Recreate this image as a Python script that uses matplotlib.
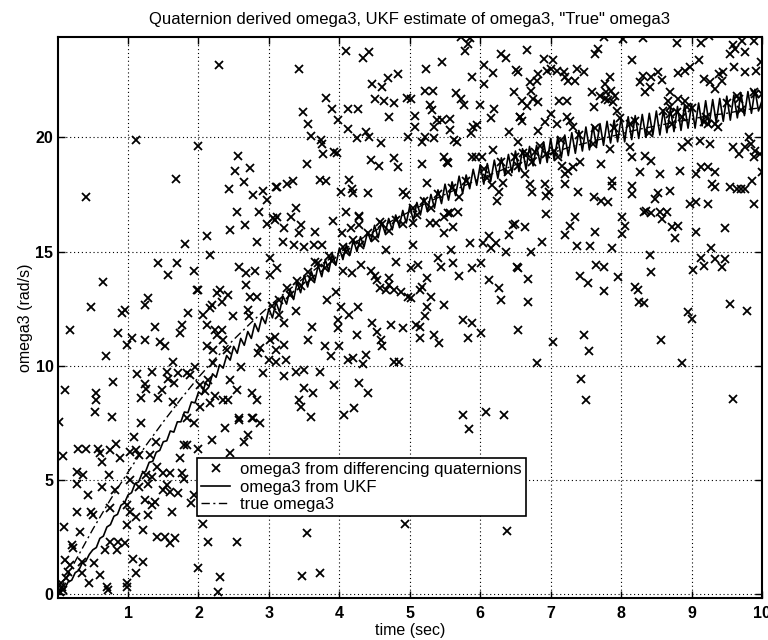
import numpy as np
import matplotlib
matplotlib.use("Agg")
import matplotlib.pyplot as plt

plt.rcParams['font.family'] = ['Liberation Sans', 'DejaVu Sans']

# ---- true omega3 (sampled every 0.25 s) ----
true_t = np.linspace(0, 10, 41)
true_w = [0.0, 1.45, 2.85, 4.15, 5.35, 6.5, 7.55, 8.55, 9.5, 10.35,
          11.15, 11.9, 12.6, 13.25, 13.85, 14.45, 14.95, 15.45, 15.9, 16.35,
          16.75, 17.15, 17.5, 17.85, 18.2, 18.5, 18.8, 19.05, 19.3, 19.55,
          19.75, 19.95, 20.15, 20.35, 20.5, 20.65, 20.8, 20.95, 21.05, 21.2,
          21.3]

# ---- UKF estimate of omega3 (every 0.05 s) ----
ukf_t = np.linspace(0, 10, 201)
ukf_w = [
    0.00, 0.22, 0.25, 0.55, 0.62, 0.95, 1.05, 1.38, 1.45, 1.75,
    1.95, 2.05, 2.45, 2.55, 2.95, 3.05, 3.42, 3.50, 3.90, 4.00,
    4.35, 4.45, 4.85, 4.92, 5.30, 5.38, 5.78, 5.82, 6.22, 6.30,
    6.68, 6.72, 7.15, 7.10, 7.55, 7.55, 7.98, 7.95, 8.42, 8.38,
    8.85, 8.75, 9.25, 9.10, 9.65, 9.50, 10.05, 9.90, 10.45, 10.25,
    10.85, 10.55, 11.20, 10.90, 11.50, 11.20, 11.85, 11.50, 12.15, 11.85,
    12.50, 12.10, 12.80, 12.35, 13.05, 12.70, 13.35, 12.90, 13.65, 13.20,
    13.95, 13.45, 14.15, 13.70, 14.40, 13.90, 14.65, 14.15, 14.90, 14.40,
    15.15, 14.65, 15.30, 14.85, 15.50, 15.00, 15.65, 15.20, 15.85, 15.45,
    16.15, 15.60, 16.30, 15.80, 16.45, 15.95, 16.60, 16.10, 16.80, 16.25,
    17.00, 16.35, 17.15, 16.60, 17.35, 16.75, 17.50, 16.90, 17.70, 17.10,
    17.95, 17.25, 18.05, 17.45, 18.30, 17.55, 18.35, 17.75, 18.60, 17.90,
    18.80, 17.95, 18.85, 18.10, 19.00, 18.20, 19.10, 18.35, 19.25, 18.45,
    19.40, 18.50, 19.50, 18.60, 19.60, 18.75, 19.65, 18.85, 19.80, 18.90,
    19.95, 19.00, 20.00, 19.10, 20.10, 19.20, 20.20, 19.30, 20.30, 19.40,
    20.45, 19.45, 20.50, 19.60, 20.60, 19.65, 20.70, 19.75, 20.75, 19.80,
    20.85, 19.80, 20.90, 19.90, 20.95, 19.95, 21.00, 20.00, 21.05, 20.10,
    21.15, 20.10, 21.20, 20.20, 21.25, 20.25, 21.35, 20.30, 21.40, 20.40,
    21.45, 20.40, 21.50, 20.50, 21.60, 20.55, 21.65, 20.65, 21.70, 20.70,
    21.80, 20.75, 21.85, 20.85, 21.95, 20.95, 22.00, 21.05, 22.10, 21.15,
    21.60]

# ---- omega3 from differencing quaternions (time, value) ----
quat_t = [
    0.40, 1.11, 1.68, 2.00, 2.29, 2.56, 2.52, 2.73, 2.64, 2.43, 2.78, 2.91, 2.97, 3.10, 2.55, 2.86, 3.06,
    3.42, 4.09, 4.33, 4.42, 3.48, 3.56, 3.81, 3.89, 3.98, 3.60, 3.74, 3.75, 3.77, 3.93, 3.96, 3.54, 3.12,
    3.26, 3.34, 3.72, 3.81, 3.12, 3.38, 4.12, 4.27, 4.12, 4.25, 4.38, 4.42, 4.47, 4.61, 4.69, 4.83, 4.51,
    4.64, 4.77, 4.71, 4.59, 4.45, 4.56, 4.78, 4.83, 4.14, 4.18, 4.19, 4.02, 4.40, 4.09, 4.28, 4.90, 4.94,
    4.96, 5.02, 4.97, 5.08, 5.07, 5.17, 5.21, 5.18, 5.24, 5.23, 5.22, 5.33, 5.46, 5.29, 5.31, 5.35, 5.39,
    5.35, 5.46, 5.57, 5.57, 5.48, 5.53, 5.54, 5.63, 5.67, 5.66, 5.73, 5.77, 5.73, 5.79, 5.82, 5.86, 5.87,
    5.90, 5.95, 5.89, 5.94, 6.00, 5.89, 6.06, 6.05, 6.18, 6.15, 6.19, 6.18, 6.29, 6.36, 6.51, 6.48, 6.56,
    6.41, 5.49, 5.68, 5.57, 6.26, 6.24, 6.32, 6.17, 6.03,
    6.67, 6.90, 7.03, 6.54, 6.82, 6.95, 7.01, 7.09, 7.19, 7.20, 7.34, 7.37, 7.48, 7.25, 6.71, 6.80, 7.75,
    7.67, 7.63, 8.02, 8.31, 8.16, 8.80, 9.14, 9.25, 9.11, 9.59, 9.71, 9.89, 9.55, 9.62, 9.76, 9.99, 9.60,
    9.76, 9.91, 7.58, 7.77, 7.84, 7.70, 7.79, 7.86, 7.91, 7.77, 7.82, 7.89, 7.94, 7.62, 7.98, 8.13, 8.27,
    8.41, 8.31, 8.52, 8.43, 8.34, 8.58, 8.81, 8.91, 8.98, 8.70, 8.67, 8.69, 8.60, 8.81, 8.91, 8.93, 8.79,
    8.86, 8.72, 9.18, 9.26, 9.33, 9.43, 9.39, 9.45, 9.64, 9.68, 9.89, 10.00, 9.17, 9.24, 9.33, 9.38, 6.59,
    6.66, 6.75, 6.82, 6.72, 6.56, 6.59, 6.92, 7.01, 7.09, 7.12, 7.23, 7.23, 7.27, 7.32, 7.63, 6.82, 6.54,
    6.49, 6.66, 6.78, 6.73, 6.94, 7.04, 7.11, 6.54, 6.64, 6.71, 6.73, 6.92, 6.97, 6.94, 7.16, 7.20, 7.25,
    7.32, 7.42, 7.20, 7.39, 7.61, 7.72, 7.82, 7.72, 7.84, 7.87, 7.87, 8.15, 8.13, 8.34, 8.43, 8.27, 8.55,
    8.83, 8.15, 8.15, 8.53, 8.48, 8.69, 8.36, 8.43, 8.55, 8.98, 9.07, 9.24, 9.07, 9.14, 9.24, 9.33, 9.29,
    9.33, 9.12, 9.26, 8.95, 8.86, 9.59, 9.68, 9.76, 9.85, 9.90, 9.88, 9.97, 10.00, 9.55, 9.64, 9.70, 9.76,
    9.86, 9.88, 9.81,
    3.31, 3.45, 3.43, 3.66, 3.91, 4.04, 4.17, 4.28, 4.28, 4.57, 3.22, 3.20, 3.36, 3.08, 3.50, 3.64, 3.76,
    3.65, 4.05, 4.18, 4.31, 4.45, 4.50, 4.54, 4.57, 4.71, 4.71, 4.66, 4.78, 4.88, 4.97, 5.02, 4.66, 4.80,
    5.05, 5.02, 5.11, 5.04, 5.28, 5.37, 5.49, 5.61, 5.54, 5.59, 5.40, 5.44, 5.61, 5.25, 5.18, 5.14, 5.30,
    5.25, 5.21, 5.14, 5.09, 5.49, 5.70, 5.85, 5.89, 6.01, 6.04, 6.13, 6.15, 6.22, 6.37, 6.41, 6.46, 6.53,
    6.13, 6.27, 6.30, 5.75, 5.89, 6.01, 5.82, 6.53, 5.35, 5.42, 5.14, 4.90, 4.73, 4.47, 4.54, 4.59, 4.61,
    4.25, 4.38, 4.19, 4.12, 4.33, 4.78, 4.85, 4.00, 3.98, 3.98, 4.02, 4.14, 4.27, 3.95, 3.83, 3.55, 3.61,
    3.79, 3.88, 3.38, 3.22, 3.15, 3.08, 3.22, 3.10, 3.10, 3.24, 3.21, 3.38, 3.50, 3.72, 3.50, 3.62, 3.43,
    3.46, 3.60, 3.93, 4.07, 4.21, 4.28, 4.40, 5.75, 6.08, 6.34,
    6.94, 6.49, 6.64, 6.87, 6.72, 6.52, 6.68, 6.68, 6.81, 7.03, 7.35, 7.27, 7.21, 7.37, 7.56, 7.63, 7.65,
    7.75, 7.42, 7.53, 7.76, 7.87, 7.95, 8.01, 8.06, 8.01, 8.32, 8.58, 8.65, 8.72, 8.81, 8.77, 9.07, 9.48,
    8.41, 8.43, 8.20, 8.24, 8.26, 8.32, 8.57, 8.86, 8.95, 9.00, 9.02, 9.13, 9.18, 9.28, 9.33, 9.43, 9.48,
    9.55, 9.79, 7.48, 7.54, 7.43, 7.50, 9.59,
    0.11, 0.18, 0.48, 0.65, 0.69, 0.54, 0.55, 0.53, 0.77, 0.79, 0.86, 0.91, 0.95, 0.98, 1.05, 1.24, 1.24,
    1.29, 1.38, 1.43, 1.57, 1.69, 1.81, 1.93, 1.46, 1.52, 1.13, 1.24, 1.25, 1.34, 1.19, 1.43, 1.48, 1.57,
    1.64, 1.55, 1.65, 1.71, 1.64, 1.83, 1.88, 1.74, 1.76, 1.85, 1.98, 2.00, 2.12, 2.16, 1.95, 2.02, 2.14,
    2.09, 2.02, 2.16, 2.23, 2.35, 2.42, 2.20, 2.26, 2.31, 2.33, 2.19, 2.07, 2.12, 2.16, 2.23, 2.26, 2.33,
    2.12, 2.21, 2.35, 2.40, 2.42, 2.49, 2.45, 2.66, 2.58, 2.67, 2.80, 2.67, 2.73, 2.83, 2.71, 2.72, 2.83,
    2.97, 3.02, 3.11, 3.02, 2.45, 2.54, 2.76, 2.83, 2.61, 2.92, 3.00, 2.85, 2.87, 3.02, 2.57, 2.76,
    0.02, 0.07, 0.09, 0.11, 0.27, 0.36, 0.29, 0.41, 0.28, 0.43, 0.28, 0.50, 0.20, 0.22, 0.32, 0.34, 0.34,
    0.45, 0.60, 0.70, 0.72, 0.98, 0.98, 1.11, 1.07, 1.21, 0.58, 0.60, 0.74, 0.83, 0.63, 0.73, 0.63, 0.89,
    0.81, 0.51, 0.48, 0.74, 0.67, 0.75, 0.86, 0.84, 0.95, 0.98, 1.03, 1.08, 1.12, 1.19, 1.15, 1.03, 1.15,
    0.98, 1.03, 1.12, 1.21, 1.24, 1.29, 1.34, 1.26, 1.41, 1.31, 1.40, 1.50, 1.60, 1.55, 1.60, 1.50, 1.38,
    1.34, 1.29, 1.41, 1.53, 1.60, 1.67, 1.63, 1.71, 1.74, 1.76, 1.79, 1.79, 1.83, 1.83, 1.93, 1.90, 1.93,
    2.00, 2.00, 2.14, 2.19, 2.30, 2.28, 2.37, 2.45, 2.54, 2.57, 2.71, 2.64, 2.78, 2.87, 0.06,
    3.47, 3.72, 2.07, 3.54, 4.93, 5.84, 6.38,
    0.03, 0.05, 0.08, 0.12, 0.15, 0.18,
    3.05, 3.15, 3.25, 3.30, 3.40, 3.45, 3.55, 3.60, 3.70, 3.80, 3.85, 3.90, 4.05, 4.10, 4.20, 4.30, 4.40,
    4.50, 4.60, 4.70, 4.80, 4.90, 5.05, 5.10, 5.20, 5.30, 5.40, 5.60, 5.70, 5.80, 6.05, 6.10, 6.30, 6.40,
    6.60, 6.85, 7.15, 7.40, 7.60, 7.90, 8.20, 8.40, 8.70, 9.00, 9.20, 9.50, 9.70, 9.90]
quat_w = [
    17.38, 19.90, 18.16, 19.60, 23.16, 19.18, 18.54, 18.64, 18.03, 17.74, 17.48, 17.65, 17.26, 17.81, 16.72, 16.72, 16.46,
    22.97, 23.78, 23.46, 23.75, 21.12, 20.57, 21.70, 21.24, 20.76, 20.06, 19.88, 19.69, 19.27, 19.34, 19.30, 18.83, 17.81,
    17.96, 18.09, 18.13, 18.10, 16.53, 16.92, 21.22, 21.22, 20.35, 19.96, 20.22, 20.03, 22.33, 22.22, 22.61, 22.77, 21.66,
    21.60, 21.49, 20.90, 19.74, 19.00, 18.75, 19.08, 18.72, 18.13, 17.74, 17.55, 17.62, 17.55, 16.75, 16.57, 17.62, 17.48,
    21.70, 21.66, 20.03, 20.93, 20.44, 19.81, 20.03, 18.83, 18.02, 22.97, 22.03, 22.03, 23.31, 21.41, 21.20, 20.47, 20.76,
    19.99, 20.76, 20.80, 20.32, 19.15, 18.94, 18.86, 19.88, 19.78, 21.95, 21.66, 21.41, 24.40, 23.79, 24.07, 24.33, 20.17,
    20.44, 20.54, 19.15, 19.15, 21.41, 22.65, 23.16, 22.33, 22.83, 20.83, 21.22, 19.45, 23.63, 23.49, 22.95, 22.00, 20.90,
    20.25, 16.53, 16.75, 16.68, 17.62, 17.23, 18.02, 17.91, 19.15,
    23.82, 23.43, 23.38, 22.87, 22.77, 22.92, 22.99, 22.92, 22.87, 22.65, 22.45, 22.99, 22.84, 22.45, 22.41, 22.48, 24.37,
    23.86, 23.65, 24.30, 24.33, 23.38, 24.11, 24.11, 24.45, 23.38, 24.05, 24.23, 24.23, 23.65, 23.86, 23.72, 23.28, 23.06,
    22.87, 22.92, 21.97, 22.33, 22.62, 21.82, 21.97, 22.04, 21.82, 21.68, 21.63, 21.53, 21.17, 21.31, 20.85, 20.58, 22.41,
    22.19, 22.70, 22.84, 22.62, 21.97, 22.51, 22.80, 22.92, 23.06, 21.97, 21.60, 21.31, 21.17, 21.68, 21.60, 21.31, 21.09,
    20.87, 20.58, 22.55, 22.41, 22.11, 22.48, 22.77, 22.84, 21.82, 21.68, 22.00, 21.90, 20.66, 20.58, 20.58, 20.44, 21.60,
    21.39, 21.68, 21.53, 22.04, 20.87, 20.73, 20.66, 21.02, 20.58, 21.60, 21.60, 20.87, 20.73, 20.44, 20.39, 20.29, 19.78,
    19.13, 19.27, 19.34, 18.91, 19.27, 19.42, 19.13, 18.76, 18.40, 17.96, 17.59, 17.96, 17.59, 17.45, 18.76, 18.40, 18.54,
    18.69, 18.91, 17.96, 17.59, 17.38, 17.20, 17.16, 18.83, 19.49, 18.10, 17.89, 19.13, 19.56, 19.20, 18.98, 18.47, 18.40,
    18.54, 17.89, 17.52, 17.55, 17.30, 17.67, 16.79, 16.68, 16.72, 17.08, 17.16, 17.08, 18.40, 18.69, 18.69, 18.47, 17.96,
    17.81, 19.85, 19.71, 19.78, 19.56, 19.56, 19.27, 19.56, 19.71, 19.42, 19.13, 19.27, 18.47, 17.81, 17.74, 17.74, 17.74,
    18.10, 17.08, 20.00,
    16.53, 16.17, 15.80, 15.87, 16.34, 15.80, 16.02, 16.17, 16.53, 16.31, 16.02, 15.44, 15.29, 16.38, 15.22, 15.29, 15.29,
    14.56, 14.13, 14.05, 14.42, 14.13, 13.91, 13.76, 13.40, 13.83, 13.54, 13.32, 13.32, 13.25, 13.03, 12.96, 15.07, 14.56,
    15.29, 14.27, 14.42, 16.24, 16.24, 16.24, 15.80, 16.09, 16.68, 15.07, 14.71, 14.34, 14.49, 13.83, 13.47, 13.32, 13.03,
    12.59, 12.16, 11.72, 11.79, 12.67, 13.91, 15.36, 14.27, 14.49, 15.36, 15.66, 15.15, 15.36, 15.00, 15.73, 16.17, 14.27,
    13.76, 13.40, 12.89, 12.01, 11.87, 11.43, 11.21, 11.57, 11.36, 10.99, 11.21, 11.65, 11.79, 11.87, 11.50, 11.14, 10.85,
    11.36, 10.48, 10.34, 10.26, 10.09, 10.19, 10.19, 10.85, 11.65, 12.01, 12.59, 12.23, 12.59, 13.25, 12.86, 11.14, 11.69,
    10.85, 10.41, 12.38, 11.87, 12.23, 11.28, 10.92, 10.70, 10.19, 10.26, 9.56, 9.75, 9.82, 9.75, 9.02, 8.83, 8.51,
    8.22, 7.78, 9.17, 7.86, 8.15, 9.24, 8.80, 7.86, 8.00, 7.86,
    16.65, 16.21, 16.06, 15.41, 14.97, 14.31, 13.80, 12.78, 10.12, 11.06, 16.53, 16.14, 15.74, 15.23, 15.23, 15.85, 14.43,
    14.34, 13.91, 13.62, 13.27, 15.15, 13.88, 16.50, 16.14, 15.77, 16.72, 16.43, 16.72, 16.06, 16.14, 15.60, 15.85, 16.03,
    14.83, 14.10, 13.44, 13.32, 12.78, 12.74, 11.11, 10.12, 12.35, 12.06, 14.20, 14.71, 14.39, 15.16, 14.68, 14.34, 14.68,
    12.71, 12.42, 11.36, 10.64, 9.43, 8.51, 8.53,
    8.95, 11.57, 12.57, 13.66, 10.44, 8.83, 8.51, 7.97, 7.78, 9.31, 11.43, 12.30, 12.45, 10.92, 11.21, 11.14, 12.67,
    12.96, 11.69, 14.52, 13.98, 14.52, 15.32, 14.13, 11.06, 10.87, 9.65, 9.21, 8.98, 9.75, 8.59, 8.59, 8.95, 9.42,
    10.19, 9.75, 9.24, 9.68, 8.44, 9.68, 9.60, 11.43, 11.79, 12.30, 13.32, 13.32, 15.69, 14.85, 9.97, 9.17, 9.39,
    8.88, 8.22, 8.37, 8.66, 8.51, 8.51, 10.12, 13.18, 13.32, 12.81, 12.67, 12.23, 11.79, 12.52, 11.57, 11.36, 11.57,
    10.85, 10.70, 11.14, 10.70, 13.10, 12.19, 15.95, 16.17, 14.34, 14.05, 14.13, 13.54, 13.03, 13.00, 12.45, 12.19, 15.44,
    16.21, 14.71, 14.27, 13.98, 9.39, 8.95, 8.80, 8.51, 9.97, 9.68, 10.26, 10.55, 10.77, 11.14, 7.71, 7.71,
    7.55, 6.06, 2.96, 1.50, 5.36, 5.22, 6.38, 6.38, 4.85, 4.34, 3.62, 3.47, 2.16, 2.01, 2.74, 1.43, 0.92,
    0.48, 0.87, 0.33, 0.19, 0.48, 0.33, 0.92, 1.57, 1.43, 6.38, 6.17, 6.31, 6.60, 5.80, 5.22, 4.71, 5.95,
    4.56, 1.36, 3.62, 3.76, 1.94, 2.30, 2.30, 1.94, 2.23, 3.03, 6.24, 6.90, 6.31, 7.48, 6.09, 5.00, 4.71,
    3.91, 3.62, 3.40, 2.81, 4.13, 4.85, 5.15, 5.22, 5.58, 6.09, 6.68, 5.29, 5.29, 4.78, 4.49, 4.56, 4.05,
    3.91, 3.47, 2.52, 2.52, 2.23, 2.45, 3.62, 4.42, 5.95, 5.29, 5.07, 6.53, 6.53, 7.70, 7.48, 3.98, 4.34,
    6.38, 1.14, 2.30, 6.75, 0.77, 0.12, 7.26, 6.17, 2.30, 7.62, 6.97, 6.68, 7.70, 7.48, 0.33,
    0.80, 0.92, 3.10, 2.67, 3.10, 7.23, 2.77,
    0.10, 0.50, 0.20, 0.70, 1.00, 1.30,
    12.60, 12.90, 13.40, 13.10, 13.70, 13.50, 14.10, 13.80, 14.50, 14.30, 14.80, 14.60, 15.20, 15.00, 15.50, 15.30, 15.80,
    15.60, 16.20, 15.90, 16.40, 16.20, 16.90, 16.60, 17.20, 16.90, 17.50, 17.80, 17.40, 18.10, 18.60, 18.20, 18.90, 18.50,
    19.30, 19.60, 19.90, 20.10, 19.70, 20.40, 20.70, 20.20, 21.00, 21.30, 20.90, 21.50, 21.20, 21.90]

fig = plt.figure(figsize=(7.68, 6.4), dpi=100)
ax = fig.add_axes([0.075, 0.0659, 0.9172, 0.8767])

ax.plot(quat_t, quat_w, linestyle='none', marker='x', color='black',
        markersize=5.5, markeredgewidth=1.3,
        label='omega3 from differencing quaternions')
ax.plot(ukf_t, ukf_w, color='black', linewidth=1.2, label='omega3 from UKF')
ax.plot(true_t, true_w, color='black', linewidth=1.0,
        linestyle=(0, (6, 2.5, 1.5, 2.5)), label='true omega3')

ax.set_xlim(0, 10)
ax.set_ylim(-0.15, 24.4)
ax.set_xticks(range(1, 11))
ax.set_yticks([0, 5, 10, 15, 20])
ax.grid(True, color='black', linestyle=(0, (1, 2.5)), linewidth=0.8)
ax.tick_params(direction='in', length=5, width=1.0, top=True, right=True,
               labelsize=11.5, pad=6)
ax.tick_params(axis='y', pad=3)
for lab in ax.get_xticklabels() + ax.get_yticklabels():
    lab.set_fontweight('bold')
for sp in ax.spines.values():
    sp.set_linewidth(1.5)

ax.set_title('Quaternion derived omega3, UKF estimate of omega3, "True" omega3',
             fontsize=12, pad=9)
ax.set_xlabel('time (sec)', fontsize=11.5, labelpad=1)
ax.set_ylabel('omega3 (rad/s)', fontsize=11.5, labelpad=2)

leg = ax.legend(loc='upper left', bbox_to_anchor=(0.198, 0.249),
                borderaxespad=0, fontsize=12, fancybox=False, framealpha=1,
                edgecolor='black', handlelength=1.75, handletextpad=0.6,
                labelspacing=0.15, borderpad=0.25)
leg.get_frame().set_linewidth(1.2)

fig.savefig('out.png', dpi=100)
